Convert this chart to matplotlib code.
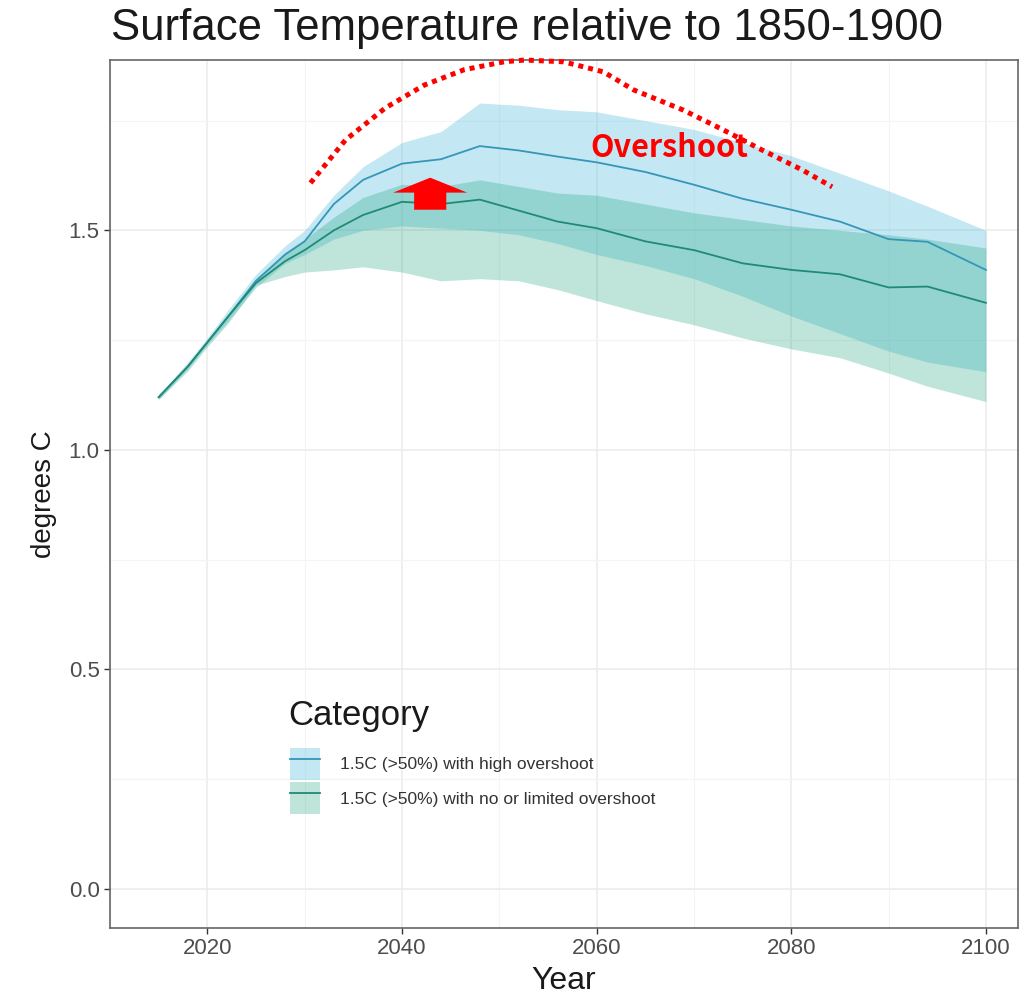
import numpy as np
import matplotlib
matplotlib.use('Agg')
import matplotlib.pyplot as plt
from matplotlib.patches import Patch, FancyArrow
from matplotlib.lines import Line2D

# values
years = [2015, 2018, 2020, 2022, 2025, 2028, 2030, 2033, 2036, 2040, 2044, 2048,
         2052, 2056, 2060, 2065, 2070, 2075, 2080, 2085, 2090, 2094, 2100]

high_med = [1.12, 1.19, 1.245, 1.30, 1.385, 1.445, 1.475, 1.56, 1.615, 1.652, 1.662, 1.692,
            1.682, 1.668, 1.655, 1.633, 1.604, 1.572, 1.547, 1.52, 1.48, 1.474, 1.41]
high_lo = [1.115, 1.185, 1.24, 1.29, 1.37, 1.425, 1.445, 1.48, 1.50, 1.51, 1.505, 1.50,
           1.49, 1.47, 1.445, 1.42, 1.39, 1.35, 1.305, 1.265, 1.225, 1.20, 1.178]
high_hi = [1.125, 1.20, 1.255, 1.315, 1.40, 1.465, 1.50, 1.58, 1.645, 1.70, 1.725, 1.79,
           1.785, 1.775, 1.77, 1.75, 1.73, 1.70, 1.67, 1.63, 1.59, 1.555, 1.50]

low_med = [1.12, 1.19, 1.245, 1.30, 1.38, 1.43, 1.455, 1.50, 1.535, 1.565, 1.56, 1.57,
           1.545, 1.52, 1.505, 1.475, 1.455, 1.425, 1.41, 1.40, 1.37, 1.372, 1.335]
low_lo = [1.115, 1.18, 1.235, 1.285, 1.375, 1.395, 1.405, 1.41, 1.417, 1.405, 1.385, 1.39,
          1.385, 1.365, 1.34, 1.31, 1.285, 1.255, 1.23, 1.21, 1.175, 1.145, 1.11]
low_hi = [1.12, 1.195, 1.25, 1.305, 1.39, 1.45, 1.48, 1.53, 1.575, 1.605, 1.60, 1.615,
          1.60, 1.585, 1.58, 1.56, 1.54, 1.525, 1.51, 1.50, 1.49, 1.48, 1.46]

labels = ['1.5C (>50%) with high overshoot', '1.5C (>50%) with no or limited overshoot']

# red dotted "overshoot" arc, in data units
arc_x = [2030.6, 2034.2, 2038.3, 2042.3, 2046.4, 2050.5, 2052.6, 2056.6, 2060.7,
         2063.8, 2068.9, 2073.0, 2077.0, 2081.1, 2084.2]
arc_y = [1.608, 1.706, 1.779, 1.831, 1.866, 1.884, 1.888, 1.884, 1.861,
         1.820, 1.774, 1.729, 1.683, 1.638, 1.599]

blue_fill = '#5BC0DE'
blue_line = '#3596B8'
green_fill = '#1AA37A'
green_line = '#218A72'

plt.rcParams['font.family'] = ['Liberation Sans', 'DejaVu Sans']

fig = plt.figure(figsize=(10.33, 9.97), dpi=100)
ax = fig.add_axes([0.1065, 0.0692, 0.879, 0.8706])

ax.fill_between(years, high_lo, high_hi, color=blue_fill, alpha=0.36, lw=0, zorder=2)
ax.fill_between(years, low_lo, low_hi, color=green_fill, alpha=0.28, lw=0, zorder=3)
ax.plot(years, high_med, color=blue_line, lw=1.3, zorder=4, solid_joinstyle='round')
ax.plot(years, low_med, color=green_line, lw=1.3, zorder=4, solid_joinstyle='round')

ax.set_xlim(2010.6, 2103.3)
ax.set_ylim(-0.089, 1.888)
ax.set_xticks([2020, 2040, 2060, 2080, 2100])
ax.set_xticks([2010, 2030, 2050, 2070, 2090], minor=True)
ax.set_yticks([0.0, 0.5, 1.0, 1.5])
ax.set_yticklabels(['0.0', '0.5', '1.0', '1.5'])
ax.set_yticks([0.25, 0.75, 1.25, 1.75], minor=True)
ax.grid(which='major', color='#EBEBEB', lw=1.1, zorder=0)
ax.grid(which='minor', color='#F4F4F4', lw=0.8, zorder=0)
ax.set_axisbelow(True)
ax.tick_params(which='major', labelsize=16, labelcolor='#4D4D4D', color='#333333',
               length=4, width=1)
ax.tick_params(which='minor', length=0)
for s in ax.spines.values():
    s.set_color('#666666')
    s.set_linewidth(1.2)

ax.set_xlabel('Year', fontsize=23, color='#1A1A1A', labelpad=5)
ax.set_ylabel('degrees C', fontsize=20, color='#1A1A1A', labelpad=8)
fig.text(0.107, 0.971, 'Surface Temperature relative to 1850-1900', fontsize=31.5,
         color='#1A1A1A', va='center', ha='left')

# legend: fill box with line on top, like ggplot
h1 = (Patch(facecolor=blue_fill, alpha=0.36, lw=0), Line2D([], [], color=blue_line, lw=1.3))
h2 = (Patch(facecolor=green_fill, alpha=0.28, lw=0), Line2D([], [], color=green_line, lw=1.3))
leg = ax.legend([h1, h2], labels, loc='upper left', bbox_to_anchor=(0.198, 0.2074),
                frameon=False, fontsize=12.5, borderpad=0, borderaxespad=0,
                handlelength=1.72, handleheight=2.45, handletextpad=1.15,
                labelspacing=0.15)
for t in leg.get_texts():
    t.set_color('#333333')
ax.text(0.196, 0.2454, 'Category', transform=ax.transAxes, fontsize=25,
        color='#1A1A1A', va='center', ha='left')

# annotations
ax.plot(arc_x, arc_y, color='red', lw=3.6, ls=(0, (1, 1)), clip_on=False, zorder=6)
ax.add_patch(FancyArrow(2042.9, 1.547, 0, 0.073, width=3.3, head_width=7.6,
                        head_length=0.034, length_includes_head=True,
                        color='red', lw=0, zorder=7))
ax.text(2059.4, 1.688, 'Overshoot', color='red', fontsize=22, fontweight='bold',
        family=['Noto Sans CJK JP', 'DejaVu Sans'], va='center', ha='left', zorder=7)

fig.savefig('out.png', dpi=100)
